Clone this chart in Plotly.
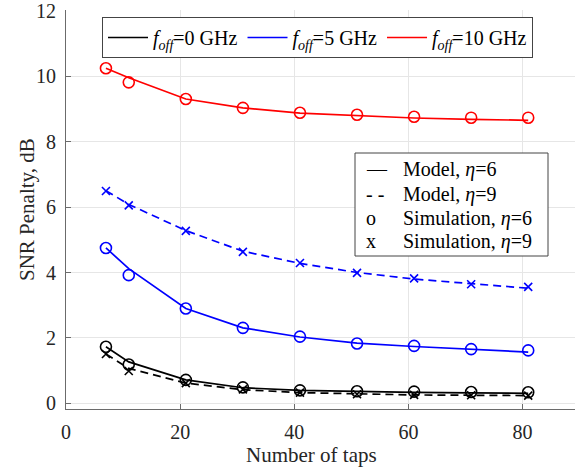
import plotly.graph_objects as go

taps = [7, 11, 21, 31, 41, 51, 61, 71, 81]

# f_off = 0 GHz
model0_eta6 = [1.73, 1.27, 0.72, 0.48, 0.40, 0.36, 0.34, 0.32, 0.31]
sim0_eta6 = [1.73, 1.19, 0.72, 0.49, 0.40, 0.37, 0.36, 0.35, 0.34]
model0_eta9 = [1.51, 1.07, 0.62, 0.42, 0.33, 0.29, 0.26, 0.25, 0.24]
sim0_eta9 = [1.51, 0.99, 0.62, 0.43, 0.33, 0.28, 0.26, 0.25, 0.24]

# f_off = 5 GHz
model5_eta6 = [4.75, 4.12, 2.90, 2.31, 2.03, 1.84, 1.74, 1.65, 1.57]
sim5_eta6 = [4.75, 3.92, 2.90, 2.31, 2.04, 1.83, 1.76, 1.66, 1.62]
model5_eta9 = [6.50, 6.08, 5.28, 4.65, 4.28, 4.00, 3.80, 3.65, 3.52]
sim5_eta9 = [6.49, 6.05, 5.27, 4.63, 4.29, 3.99, 3.82, 3.64, 3.56]

# f_off = 10 GHz
model10_eta6 = [10.24, 9.95, 9.30, 9.03, 8.87, 8.79, 8.72, 8.68, 8.65]
sim10_eta6 = [10.24, 9.81, 9.30, 9.03, 8.88, 8.82, 8.76, 8.73, 8.73]

series_names = ["<i>f</i><sub><i>off</i></sub>=0 GHz",
                "<i>f</i><sub><i>off</i></sub>=5 GHz",
                "<i>f</i><sub><i>off</i></sub>=10 GHz"]
legend2_symbols = ["\u2014", "- -", "o", "x"]
legend2_labels = ["Model, <i>\u03b7</i>=6", "Model, <i>\u03b7</i>=9",
                  "Simulation, <i>\u03b7</i>=6", "Simulation, <i>\u03b7</i>=9"]
x_ticks = [0, 20, 40, 60, 80]
y_ticks = [0, 2, 4, 6, 8, 10, 12]
x_title = "Number of taps"
y_title = "SNR Penalty, dB"

BLACK = "#000000"
BLUE = "#0000ff"
RED = "#ff0000"
FONT = "Liberation Serif"

fig = go.Figure()

def model(y, color, name=None, dash="solid"):
    fig.add_trace(go.Scatter(x=taps, y=y, mode="lines",
                             line=dict(color=color, width=1.7, dash=dash),
                             name=name or "", showlegend=name is not None))

def sim(y, color, symbol, size):
    fig.add_trace(go.Scatter(x=taps, y=y, mode="markers",
                             marker=dict(symbol=symbol, size=size, color=color,
                                         line=dict(color=color, width=1.6)),
                             showlegend=False))

model(model0_eta6, BLACK, series_names[0])
model(model5_eta6, BLUE, series_names[1])
model(model10_eta6, RED, series_names[2])
model(model0_eta9, BLACK, dash="8px,5px")
model(model5_eta9, BLUE, dash="8px,5px")
sim(sim0_eta6, BLACK, "circle-open", 11)
sim(sim5_eta6, BLUE, "circle-open", 11)
sim(sim10_eta6, RED, "circle-open", 11)
sim(sim0_eta9, BLACK, "x-thin-open", 8)
sim(sim5_eta9, BLUE, "x-thin-open", 8)

W, H = 575, 473
L, T, B = 66, 10, 409
pw, ph = W - L, B - T

def px(x):
    return (x - L) / pw

def py(y):
    return (B - y) / ph

# second legend (text-symbol style)
fig.add_shape(type="rect", xref="paper", yref="paper",
              x0=px(355), x1=px(548), y0=py(256), y1=py(153),
              line=dict(color="#444444", width=1), fillcolor="white", layer="above")
rows_y = [169, 194, 218, 241]
for sym, lab, yy in zip(legend2_symbols, legend2_labels, rows_y):
    fig.add_annotation(xref="paper", yref="paper", x=px(364), y=py(yy),
                       text=sym, showarrow=False, xanchor="left", yanchor="middle",
                       font=dict(family=FONT, size=20, color="black"))
    fig.add_annotation(xref="paper", yref="paper", x=px(401), y=py(yy),
                       text=lab, showarrow=False, xanchor="left", yanchor="middle",
                       font=dict(family=FONT, size=20, color="black"))

# axis titles
fig.add_annotation(xref="paper", yref="paper", x=px(311), y=py(455),
                   text=x_title, showarrow=False, xanchor="center", yanchor="middle",
                   font=dict(family=FONT, size=21, color="#262626"))
fig.add_annotation(xref="paper", yref="paper", x=px(27), y=py(210),
                   text=y_title, showarrow=False, xanchor="center", yanchor="middle",
                   textangle=-90, font=dict(family=FONT, size=21, color="#262626"))

axis_common = dict(showgrid=True, gridcolor="#e6e6e6", gridwidth=1,
                   showline=True, linecolor="#6b6b6b", linewidth=1,
                   ticks="inside", ticklen=5, tickcolor="#6b6b6b",
                   zeroline=False, automargin=False, ticklabelstandoff=5,
                   ticklabeloverflow="allow",
                   tickfont=dict(family=FONT, size=20, color="#262626"))

fig.update_layout(
    width=W, height=H,
    margin=dict(l=L, r=0, t=T, b=H - B, autoexpand=False),
    paper_bgcolor="white", plot_bgcolor="white",
    font=dict(family=FONT, size=20, color="#262626"),
    legend=dict(orientation="h", x=px(102), y=py(17), xanchor="left", yanchor="top",
                bordercolor="#444444", borderwidth=1, bgcolor="white",
                font=dict(family=FONT, size=20, color="black"),
                itemwidth=40, tracegroupgap=0),
    xaxis=dict(range=[0, 89.2], tickvals=x_ticks, **axis_common),
    yaxis=dict(range=[-0.17, 12.02], tickvals=y_ticks, **axis_common),
)

fig.write_html("out.html", config={"displayModeBar": False},
               post_script="document.body.style.margin='0px';"
                           "document.body.style.overflow='hidden';"
                           "document.documentElement.style.overflow='hidden';")
